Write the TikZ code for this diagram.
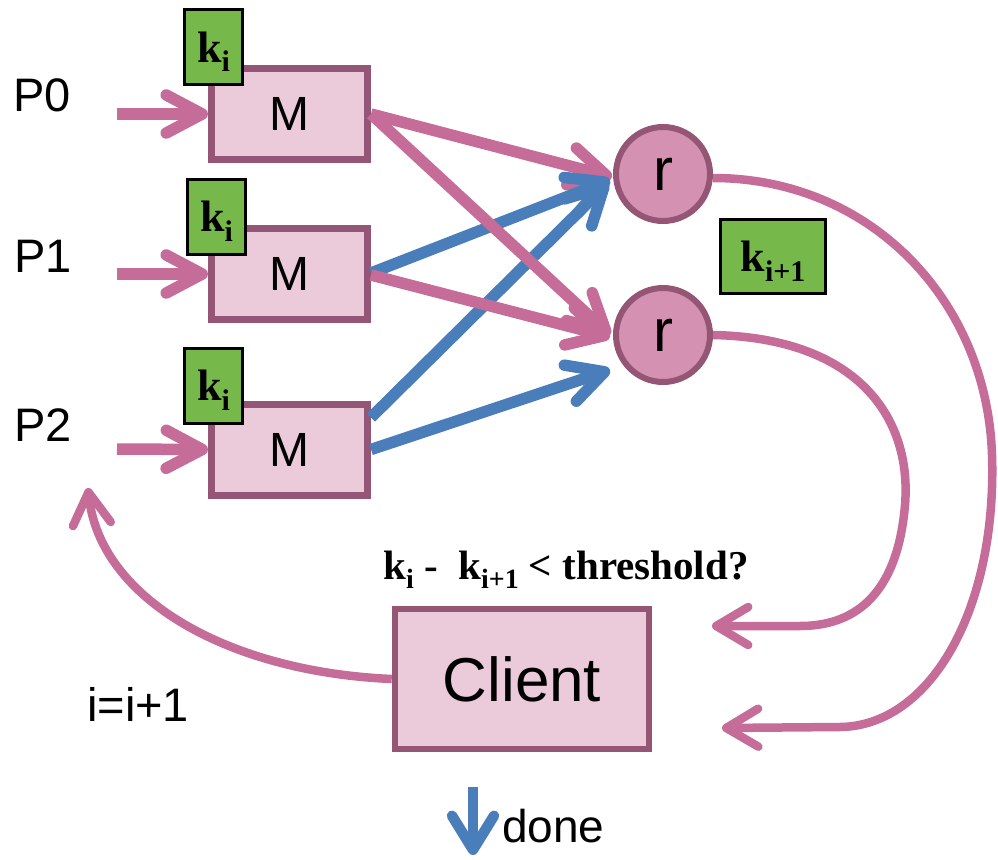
\documentclass[tikz,border=0pt]{standalone}
\usepackage{fontspec}
\setmainfont{Liberation Sans}
\newfontfamily\tnr{Liberation Serif}
\usetikzlibrary{arrows.meta,calc}

\definecolor{mfill}{HTML}{EBCBDA}
\definecolor{mdraw}{HTML}{955574}
\definecolor{rfill}{HTML}{D491B1}
\definecolor{keyg}{HTML}{77B84A}
\definecolor{flowp}{HTML}{C66C99}
\definecolor{flowb}{HTML}{4A7EBB}

% k with a lowered, smaller subscript
\newcommand\ksub[1]{k\raisebox{-0.22em}{\scalebox{0.68}{#1}}}

\tikzset{
  mbox/.style={draw=mdraw, fill=mfill, line width=7pt, inner sep=0pt,
    minimum width=156pt, minimum height=91pt, font=\fontsize{48}{48}\selectfont},
  rnode/.style={circle, draw=mdraw, fill=rfill, line width=6pt, inner sep=0pt,
    minimum size=94pt, font=\fontsize{60}{60}\selectfont},
  keybox/.style={draw=black, fill=keyg, line width=3pt, inner sep=0pt,
    text depth=0pt, font=\tnr\bfseries\fontsize{44}{44}\selectfont},
  txtlabel/.style={inner sep=0pt, anchor=base west, font=\fontsize{47}{47}\selectfont},
  pflow/.style={draw=flowp, line width=11.5pt,
    -{Straight Barb[length=36pt,width=38pt,round]}},
  bflow/.style={draw=flowb, line width=11.5pt,
    -{Straight Barb[length=36pt,width=38pt,round]}},
  loopflow/.style={draw=flowp, line width=8.5pt,
    -{Straight Barb[length=32pt,width=38pt,round]}},
}

\begin{document}
\begin{tikzpicture}[x=1pt, y=-1pt]
\useasboundingbox (0,0) rectangle (998,859);

% source labels
\node[txtlabel] (p0) at (13,111) {P0};
\node[txtlabel] (p1) at (14,272) {P1};
\node[txtlabel] (p2) at (14,441) {P2};

% input points of the map stage
\coordinate (in0) at (117,114);
\coordinate (in1) at (117,274);
\coordinate (in2) at (117,449);

% mappers
\node[mbox] (m0) at (289.5,114) {M};
\node[mbox] (m1) at (289.5,274) {M};
\node[mbox] (m2) at (289.5,449.5) {M};

% current centroid tags
\node[keybox, minimum width=58pt, minimum height=75pt] (k0) at (213.5,47) {\ksub{i}};
\node[keybox, minimum width=58pt, minimum height=75pt] (k1) at (216.5,216.5) {\ksub{i}};
\node[keybox, minimum width=58pt, minimum height=75pt] (k2) at (213.5,385.5) {\ksub{i}};

% reducers
\node[rnode] (r0) at (663,174) {r};
\node[rnode] (r1) at (663,335) {r};
\node[keybox, minimum width=105pt, minimum height=74pt] (kn) at (773,256.5) {\ksub{i+1}};

% client
\node[mbox, line width=6.5pt, minimum width=254pt, minimum height=140pt,
      font=\fontsize{62}{62}\selectfont] (client) at (522,679) {Client};
\node[inner sep=0pt, anchor=base, font=\tnr\bfseries\fontsize{41}{41}\selectfont]
  (test) at (566,579) {\ksub{i} -\ \ \ksub{i+1} < threshold?};
\node[txtlabel] (inc) at (87,721) {i=i+1};

% inputs
\draw[pflow] (in0) -- (m0.west);
\draw[pflow] (in1) -- (m1.west);
\draw[pflow] (in2) -- (m2.west);

% shuffle
\draw[pflow] (m0.east) -- ([xshift=-1pt,yshift=-3pt]r0.west);
\draw[bflow] ([yshift=1pt]m1.east) -- ([xshift=-3pt,yshift=-6pt]r0.west);
\draw[bflow] ([yshift=32pt]m2.east) -- ([xshift=-5pt,yshift=-9pt]r0.west);
\draw[pflow] (m0.east) -- ([xshift=-3pt]r1.west);
\draw[pflow] ([yshift=-1pt]m1.east) -- ([xshift=-3pt,yshift=-2pt]r1.west);
\draw[bflow] (m2.east) -- ([xshift=-3pt,yshift=-35pt]r1.west);

% results back to the client
\coordinate (ret0) at (722,728);
\coordinate (ret1) at (712,626);
\draw[loopflow] ([yshift=-4pt]r0.east) .. controls (870,178) and (987,300) .. (992,455)
  .. controls (997,610) and (930,726) .. (840,727) -- (ret0);
\draw[loopflow] (r1.east) .. controls (860,338) and (912,420) .. (905,505)
  .. controls (897,600) and (850,626) .. (800,626) -- (ret1);

% next iteration
\coordinate (again) at (88,488);
\draw[loopflow] (client.west) .. controls (230,672) and (100,600) .. (again);

% termination
\coordinate (dtop) at (473,787);
\coordinate (dend) at (473,855);
\draw[draw=flowb, line width=10.5pt, -{Straight Barb[length=34pt,width=42pt,round]}] (dtop) -- (dend);
\node[inner sep=0pt, anchor=base west, font=\fontsize{46}{46}\selectfont] (done) at (502,842) {done};
\end{tikzpicture}
\end{document}
